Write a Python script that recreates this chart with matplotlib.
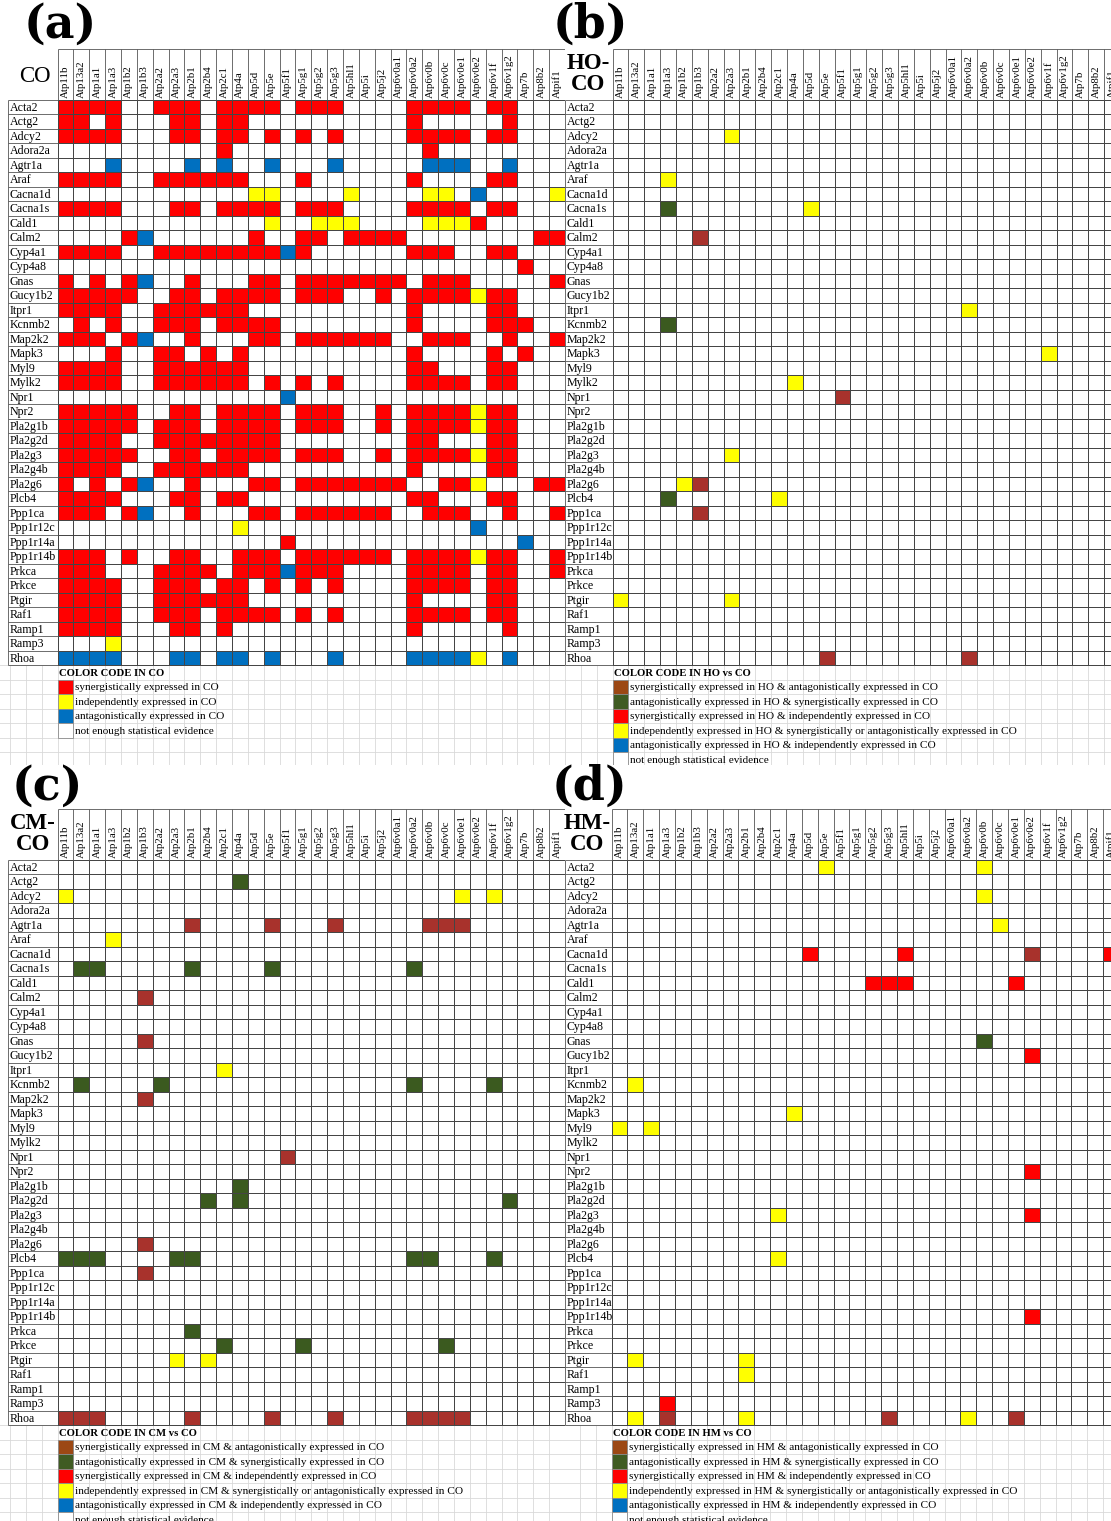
import numpy as np
import matplotlib.pyplot as plt
from matplotlib.colors import ListedColormap, BoundaryNorm
from matplotlib.patches import Rectangle

plt.rcParams['font.family'] = ['Liberation Serif', 'DejaVu Serif']

genes = ["Acta2", "Actg2", "Adcy2", "Adora2a", "Agtr1a", "Araf", "Cacna1d", "Cacna1s",
         "Cald1", "Calm2", "Cyp4a1", "Cyp4a8", "Gnas", "Gucy1b2", "Itpr1", "Kcnmb2",
         "Map2k2", "Mapk3", "Myl9", "Mylk2", "Npr1", "Npr2", "Pla2g1b", "Pla2g2d",
         "Pla2g3", "Pla2g4b", "Pla2g6", "Plcb4", "Ppp1ca", "Ppp1r12c", "Ppp1r14a",
         "Ppp1r14b", "Prkca", "Prkce", "Ptgir", "Raf1", "Ramp1", "Ramp3", "Rhoa"]

atps = ["Atp11b", "Atp13a2", "Atp1a1", "Atp1a3", "Atp1b2", "Atp1b3", "Atp2a2", "Atp2a3",
        "Atp2b1", "Atp2b4", "Atp2c1", "Atp4a", "Atp5d", "Atp5e", "Atp5f1", "Atp5g1",
        "Atp5g2", "Atp5g3", "Atp5hl1", "Atp5i", "Atp5j2", "Atp6v0a1", "Atp6v0a2",
        "Atp6v0b", "Atp6v0c", "Atp6v0e1", "Atp6v0e2", "Atp6v1f", "Atp6v1g2", "Atp7b",
        "Atp8b2", "Atpif1"]

# CO: one string per gene, one char per Atp column
# R synergistic, Y independent, B antagonistic, . no evidence
co_grid = [
    "RRRR..RRR.RRRR.RRR....RRRR.RR...",
    "RR.R...RR.RR..........R.....R...",
    "RRRR...RR.RR.R.R.R....RRRR.RR...",
    "..........R............R........",
    "...B....B.B..B...B.....BBB..B...",
    "RRRR..RRRRRR...R......R....RR...",
    "............YY....Y....YY.B....Y",
    "RRRR...RR.RRRR.RRR....RRRR.RR...",
    ".............Y..YYY....YYYR.....",
    "....RB......R..RR.RRRR........RR",
    "RRRR..RRRRRRRRBR......RRR..RR...",
    ".............................R..",
    "R.R.RB..R...RR.RRRRRRR.RRR.....R",
    "RRRRR..RR.RRRR.RRR..R.RRRRYRR...",
    "RRRR..RRRRRR..........R....RR...",
    ".R.R..RRR.RRRR........R....RRR..",
    "RRR.RB..R...RR.RRRRRR..RRR..R..R",
    "...R..RR.R.R..........R....R.R..",
    "RRRR..RRRRRR..........RR...RR...",
    "RRRR..RRRRRR.R.R.R....RRRR.RR...",
    "..............B.................",
    "RRRRR..RR.RRRR.RRR..R.RRRRYRR...",
    "RRRRR.RRR.RRRR.RRR..R.RRRRYRR...",
    "RRRR..RRRRRRRR........RR...RR...",
    "RRRRR..RR.RRRR.RRR..R.RRRRYRR...",
    "RRRR..RRRRRR..........R....RR...",
    "R.R.RB..R...RR.RRRRRRR..RRY...RR",
    "RRRR...RR.RR..........RR...RR...",
    "RRR.RB..R...RR.RRRRRR..RRR..R..R",
    "...........Y..............B.....",
    "..............R..............B..",
    "RRR.R..RR..RRR.RRRRRR.RRRRYRR..R",
    "RRR...RRRR.RRRBRRR....RRRR.RR..R",
    "RRRR..RRR.RR.R.R.R....RRRR.RR...",
    "RRRR..RRRRRR..........R....RR...",
    "RRRR..RRR.RRRR.R.R....RRRR.RR...",
    "RRRR...RR.R...........R.....R...",
    "...Y............................",
    "BBBB...BB.BB.B...B....BBBBY.B...",
]

# comparisons against CO: (gene, atp, code)
# N syn & antag in CO, G antag & syn in CO, R syn & indep in CO,
# Y indep & syn/antag in CO, B antag & indep in CO
ho_cells = [
    ("Adcy2", "Atp2a3", "Y"), ("Araf", "Atp1a3", "Y"),
    ("Cacna1s", "Atp1a3", "G"), ("Cacna1s", "Atp5d", "Y"),
    ("Calm2", "Atp1b3", "N"), ("Itpr1", "Atp6v0a2", "Y"),
    ("Kcnmb2", "Atp1a3", "G"), ("Mapk3", "Atp6v1f", "Y"),
    ("Mylk2", "Atp4a", "Y"), ("Npr1", "Atp5f1", "N"),
    ("Pla2g3", "Atp2a3", "Y"), ("Pla2g6", "Atp1b2", "Y"), ("Pla2g6", "Atp1b3", "N"),
    ("Plcb4", "Atp1a3", "G"), ("Plcb4", "Atp2c1", "Y"),
    ("Ppp1ca", "Atp1b3", "N"), ("Ptgir", "Atp11b", "Y"), ("Ptgir", "Atp2a3", "Y"),
    ("Rhoa", "Atp5e", "N"), ("Rhoa", "Atp6v0a2", "N"),
]

cm_cells = [
    ("Actg2", "Atp4a", "G"),
    ("Adcy2", "Atp11b", "Y"), ("Adcy2", "Atp6v0e1", "Y"), ("Adcy2", "Atp6v1f", "Y"),
    ("Agtr1a", "Atp2b1", "N"), ("Agtr1a", "Atp5e", "N"), ("Agtr1a", "Atp5g3", "N"),
    ("Agtr1a", "Atp6v0b", "N"), ("Agtr1a", "Atp6v0c", "N"), ("Agtr1a", "Atp6v0e1", "N"),
    ("Araf", "Atp1a3", "Y"),
    ("Cacna1s", "Atp13a2", "G"), ("Cacna1s", "Atp1a1", "G"), ("Cacna1s", "Atp2b1", "G"),
    ("Cacna1s", "Atp5e", "G"), ("Cacna1s", "Atp6v0a2", "G"),
    ("Calm2", "Atp1b3", "N"), ("Gnas", "Atp1b3", "N"), ("Itpr1", "Atp2c1", "Y"),
    ("Kcnmb2", "Atp13a2", "G"), ("Kcnmb2", "Atp2a2", "G"), ("Kcnmb2", "Atp6v0a2", "G"),
    ("Kcnmb2", "Atp6v1f", "G"),
    ("Map2k2", "Atp1b3", "N"), ("Npr1", "Atp5f1", "N"), ("Pla2g1b", "Atp4a", "G"),
    ("Pla2g2d", "Atp2b4", "G"), ("Pla2g2d", "Atp4a", "G"), ("Pla2g2d", "Atp6v1g2", "G"),
    ("Pla2g6", "Atp1b3", "N"),
    ("Plcb4", "Atp11b", "G"), ("Plcb4", "Atp13a2", "G"), ("Plcb4", "Atp1a1", "G"),
    ("Plcb4", "Atp2a3", "G"), ("Plcb4", "Atp2b1", "G"), ("Plcb4", "Atp6v0a2", "G"),
    ("Plcb4", "Atp6v0b", "G"), ("Plcb4", "Atp6v1f", "G"),
    ("Ppp1ca", "Atp1b3", "N"), ("Prkca", "Atp2b1", "G"),
    ("Prkce", "Atp2c1", "G"), ("Prkce", "Atp5g1", "G"), ("Prkce", "Atp6v0c", "G"),
    ("Ptgir", "Atp2a3", "Y"), ("Ptgir", "Atp2b4", "Y"),
    ("Rhoa", "Atp11b", "N"), ("Rhoa", "Atp13a2", "N"), ("Rhoa", "Atp1a1", "N"),
    ("Rhoa", "Atp2b1", "N"), ("Rhoa", "Atp5e", "N"), ("Rhoa", "Atp5g3", "N"),
    ("Rhoa", "Atp6v0a2", "N"), ("Rhoa", "Atp6v0b", "N"), ("Rhoa", "Atp6v0c", "N"),
    ("Rhoa", "Atp6v0e1", "N"),
]

hm_cells = [
    ("Acta2", "Atp5e", "Y"), ("Acta2", "Atp6v0b", "Y"), ("Adcy2", "Atp6v0b", "Y"),
    ("Agtr1a", "Atp6v0c", "Y"),
    ("Cacna1d", "Atp5d", "R"), ("Cacna1d", "Atp5hl1", "R"), ("Cacna1d", "Atp6v0e2", "N"),
    ("Cacna1d", "Atpif1", "R"),
    ("Cald1", "Atp5g2", "R"), ("Cald1", "Atp5g3", "R"), ("Cald1", "Atp5hl1", "R"),
    ("Cald1", "Atp6v0e1", "R"),
    ("Gnas", "Atp6v0b", "G"), ("Gucy1b2", "Atp6v0e2", "R"), ("Kcnmb2", "Atp13a2", "Y"),
    ("Mapk3", "Atp4a", "Y"), ("Myl9", "Atp11b", "Y"), ("Myl9", "Atp1a1", "Y"),
    ("Npr2", "Atp6v0e2", "R"), ("Pla2g3", "Atp2c1", "Y"), ("Pla2g3", "Atp6v0e2", "R"),
    ("Plcb4", "Atp2c1", "Y"), ("Ppp1r14b", "Atp6v0e2", "R"),
    ("Ptgir", "Atp13a2", "Y"), ("Ptgir", "Atp2b1", "Y"), ("Raf1", "Atp2b1", "Y"),
    ("Ramp3", "Atp1a3", "R"),
    ("Rhoa", "Atp13a2", "Y"), ("Rhoa", "Atp1a3", "N"), ("Rhoa", "Atp2b1", "Y"),
    ("Rhoa", "Atp5g3", "N"), ("Rhoa", "Atp6v0a2", "Y"), ("Rhoa", "Atp6v0e1", "N"),
]

codes = ".NGRYB"
cell_colors = ["#ffffff", "#a8322c", "#3b5a1f", "#ff0000", "#ffff00", "#0070c0"]
swatch_colors = dict(zip(codes, ["#ffffff", "#9c4814", "#3f5b22", "#ff0000", "#ffff00", "#0070c0"]))
cmap = ListedColormap(cell_colors)
norm = BoundaryNorm(np.arange(-0.5, len(codes)), cmap.N)

co_legend = [("R", "synergistically expressed in CO"),
             ("Y", "independently expressed in CO"),
             ("B", "antagonistically expressed in CO"),
             (".", "not enough statistical evidence")]


def vs_legend(g):
    return [("N", f"synergistically expressed in {g} & antagonistically expressed in CO"),
            ("G", f"antagonistically expressed in {g} & synergistically expressed in CO"),
            ("R", f"synergistically expressed in {g} & independently expressed in CO"),
            ("Y", f"independently expressed in {g} & synergistically or antagonistically expressed in CO"),
            ("B", f"antagonistically expressed in {g} & independently expressed in CO"),
            (".", "not enough statistical evidence")]


def grid_from_strings(rows):
    return np.array([[codes.index(ch) for ch in r] for r in rows])


def grid_from_cells(cells):
    m = np.zeros((len(genes), len(atps)), dtype=int)
    for g, a, c in cells:
        m[genes.index(g), atps.index(a)] = codes.index(c)
    return m


W, H = 1111, 1521
CW, RH = 15.86, 14.49     # cell size in pixels
HEAD = 3.5                # header height in rows

fig = plt.figure(figsize=(W / 100, H / 100), dpi=100)
fig.patch.set_facecolor("white")


def draw_panel(box, origin, mat, letter, letter_pos, tag, tag_pos, tag_weight,
               leg_title, leg_items, label_w):
    x0, x1, y0, y1 = box
    gx, gy = origin
    ax = fig.add_axes([x0 / W, 1 - y1 / H, (x1 - x0) / W, (y1 - y0) / H])
    ax.set_xlim((x0 - gx) / CW, (x1 - gx) / CW)
    ax.set_ylim((y1 - gy) / RH, (y0 - gy) / RH)
    ax.axis("off")
    nr, nc = mat.shape

    # faint spreadsheet lines under the legend
    lrows = np.arange(nr, nr + 8)
    ax.hlines(lrows, -label_w - 1, nc, color="#d9d9d9", lw=0.6, zorder=0)
    ax.vlines(np.arange(-4, nc + 1), nr, nr + 8, color="#d9d9d9", lw=0.6, zorder=0)

    # gene labels
    ax.hlines(np.arange(nr + 1), -label_w, 0, color="#555555", lw=0.6, zorder=3)
    ax.vlines(-label_w, 0, nr, color="#555555", lw=0.6, zorder=3)
    for i, g in enumerate(genes):
        ax.text(-label_w + 0.12, i + 0.55, g, fontsize=8.6, ha="left", va="center", zorder=1)

    # Atp headers
    ax.vlines(np.arange(nc + 1), -HEAD, 0, color="#555555", lw=0.6, zorder=3)
    ax.hlines(-HEAD, 0, nc, color="#555555", lw=0.6, zorder=3)
    for j, a in enumerate(atps):
        ax.text(j + 0.5, -0.12, a, fontsize=7.8, rotation=90, ha="center", va="bottom")

    ax.pcolormesh(np.arange(nc + 1), np.arange(nr + 1), mat, cmap=cmap, norm=norm,
                  edgecolors="#454545", linewidth=0.6, zorder=2)

    ax.text((letter_pos[0] - gx) / CW, (letter_pos[1] - gy) / RH, letter,
            fontsize=33, weight="bold", family="DejaVu Serif", ha="center", va="center")
    ax.text((tag_pos[0] - gx) / CW, (tag_pos[1] - gy) / RH, tag, fontsize=16.5,
            weight=tag_weight, ha="center", va="center", linespacing=0.95)

    # colour key
    ax.text(0.12, nr + 0.55, leg_title, fontsize=7.7, weight="bold", ha="left", va="center")
    for k, (c, lab) in enumerate(leg_items):
        ax.add_patch(Rectangle((0, nr + 1 + k), 1, 1, facecolor=swatch_colors[c],
                               edgecolor="#8a8a8a", lw=0.6, zorder=2))
        ax.text(1.1, nr + 1.55 + k, lab, fontsize=8.1, ha="left", va="center", zorder=3)
    return ax


draw_panel((0, 565, 0, 765), (57.5, 100), grid_from_strings(co_grid),
           "(a)", (60, 25), "CO", (35, 77), "normal",
           "COLOR CODE IN CO", co_legend, 3.12)
draw_panel((565, W, 0, 765), (612.5, 100), grid_from_cells(ho_cells),
           "(b)", (590, 25), "HO-\nCO", (588, 74), "bold",
           "COLOR CODE IN HO vs CO", vs_legend("HO"), 3.0)
draw_panel((0, 565, 765, H), (57.5, 860), grid_from_cells(cm_cells),
           "(c)", (47, 787), "CM-\nCO", (33, 834), "bold",
           "COLOR CODE IN CM vs CO", vs_legend("CM"), 3.12)
draw_panel((565, W, 765, H), (611.5, 860), grid_from_cells(hm_cells),
           "(d)", (590, 787), "HM-\nCO", (587, 834), "bold",
           "COLOR CODE IN HM vs CO", vs_legend("HM"), 2.93)

fig.savefig("out.png", dpi=100, facecolor="white")
